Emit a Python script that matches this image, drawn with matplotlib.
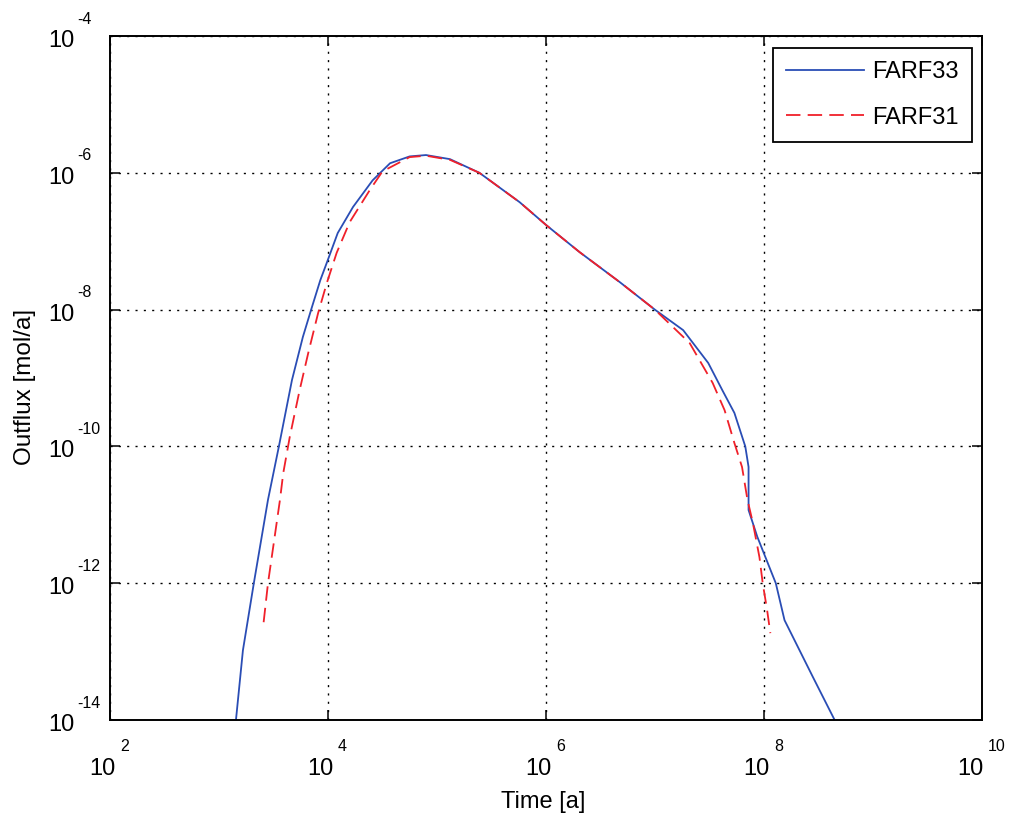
"""Outflux vs time, FARF33 and FARF31, log-log"""

import matplotlib
matplotlib.use('Agg')
import matplotlib.pyplot as plt
import numpy as np
from matplotlib.ticker import FixedLocator, NullFormatter, NullLocator

plt.rcParams['font.family'] = ['Liberation Sans', 'DejaVu Sans']

# log10(time [a]) and log10(outflux [mol/a])
farf33_logt = [3.156, 3.22, 3.32, 3.45, 3.55, 3.67, 3.77, 3.85, 3.93, 4.0, 4.09, 4.23, 4.41,
               4.57, 4.75, 4.90, 5.12, 5.39, 5.76, 6.0, 6.31, 6.68, 7.0, 7.26, 7.49, 7.62,
               7.73, 7.83, 7.86, 7.86, 7.94, 8.11, 8.19, 8.45, 8.65]
farf33_logq = [-14.0, -12.98, -12.0, -10.78, -10.0, -9.03, -8.40, -7.98, -7.57, -7.27, -6.88, -6.50, -6.11,
               -5.86, -5.76, -5.74, -5.80, -6.0, -6.43, -6.76, -7.16, -7.60, -8.0, -8.30, -8.78, -9.18,
               -9.51, -10.0, -10.30, -10.93, -11.32, -12.0, -12.54, -13.37, -14.0]

farf31_logt = [3.41, 3.45, 3.56, 3.59, 3.65, 3.74, 3.82, 3.91, 3.99, 4.08, 4.20, 4.385, 4.50,
               4.75, 4.90, 5.12, 5.39, 5.76, 6.0, 6.31, 6.68, 7.0, 7.32, 7.53, 7.64, 7.73,
               7.80, 7.85, 7.90, 7.96, 7.99, 8.03, 8.06]
farf31_logq = [-12.57, -12.0, -10.78, -10.39, -9.86, -9.18, -8.63, -8.05, -7.61, -7.17, -6.72, -6.25, -5.98,
               -5.77, -5.75, -5.81, -6.0, -6.43, -6.76, -7.16, -7.60, -8.0, -8.49, -9.07, -9.47, -9.95,
               -10.30, -10.78, -11.12, -11.62, -12.0, -12.39, -12.73]

x_exps = [2, 4, 6, 8, 10]
y_exps = [-14, -12, -10, -8, -6, -4]

PX = 0.72  # points per pixel at dpi 100
BASE_SIZE = 17
EXP_SIZE = 11.5

fig = plt.figure(figsize=(10.09, 8.17), dpi=100)
ax = fig.add_axes([0.109, 0.1187, 0.864, 0.8372])

ax.plot(10.0 ** np.array(farf33_logt), 10.0 ** np.array(farf33_logq),
        color='#2a4db5', lw=1.3, label='FARF33')
ax.plot(10.0 ** np.array(farf31_logt), 10.0 ** np.array(farf31_logq),
        color='#f0202a', lw=1.3, dashes=(8, 4), label='FARF31')

ax.set_xscale('log')
ax.set_yscale('log')
ax.set_xlim(1e2, 1e10)
ax.set_ylim(1e-14, 1e-4)

ax.xaxis.set_major_locator(FixedLocator([10.0 ** e for e in x_exps]))
ax.yaxis.set_major_locator(FixedLocator([10.0 ** e for e in y_exps]))
ax.xaxis.set_minor_locator(NullLocator())
ax.yaxis.set_minor_locator(NullLocator())
ax.xaxis.set_major_formatter(NullFormatter())
ax.yaxis.set_major_formatter(NullFormatter())

ax.tick_params(which='major', direction='in', length=7, width=1.1, top=True, right=True)
for s in ax.spines.values():
    s.set_linewidth(1.4)

ax.grid(True, color='black', linestyle=(0, (1.5, 4.5)), linewidth=1)

# MATLAB-like tick labels: "10" with a raised exponent
for e in x_exps:
    w_exp = 9 * len(str(e))
    left = -(25 + 4 + w_exp) / 2
    ax.annotate('10', xy=(10.0 ** e, 0), xycoords=('data', 'axes fraction'),
                xytext=((left + 25) * PX, -55 * PX), textcoords='offset points',
                ha='right', va='baseline', fontsize=BASE_SIZE)
    ax.annotate(str(e), xy=(10.0 ** e, 0), xycoords=('data', 'axes fraction'),
                xytext=((left + 29) * PX, -31 * PX), textcoords='offset points',
                ha='left', va='baseline', fontsize=EXP_SIZE)

for e in y_exps:
    ax.annotate('10', xy=(0, 10.0 ** e), xycoords=('axes fraction', 'data'),
                xytext=(-35 * PX, -11 * PX), textcoords='offset points',
                ha='right', va='baseline', fontsize=BASE_SIZE)
    ax.annotate(str(e), xy=(0, 10.0 ** e), xycoords=('axes fraction', 'data'),
                xytext=(-33 * PX, 12.5 * PX), textcoords='offset points',
                ha='left', va='baseline', fontsize=EXP_SIZE)

ax.set_xlabel('Time [a]', fontsize=17, va='center')
ax.xaxis.set_label_coords(0.4966, -0.120)
ax.set_ylabel('Outflux [mol/a]', fontsize=17.5, va='center')
ax.yaxis.set_label_coords(-0.097, 0.487)

leg = ax.legend(loc='upper right', bbox_to_anchor=(0.9885, 0.9825), borderaxespad=0,
                fontsize=17, fancybox=False, framealpha=1, edgecolor='black',
                handlelength=3.3, handletextpad=0.35, borderpad=0.55, labelspacing=1.0)
leg.get_frame().set_linewidth(1.3)

fig.savefig('out.png', dpi=100)
